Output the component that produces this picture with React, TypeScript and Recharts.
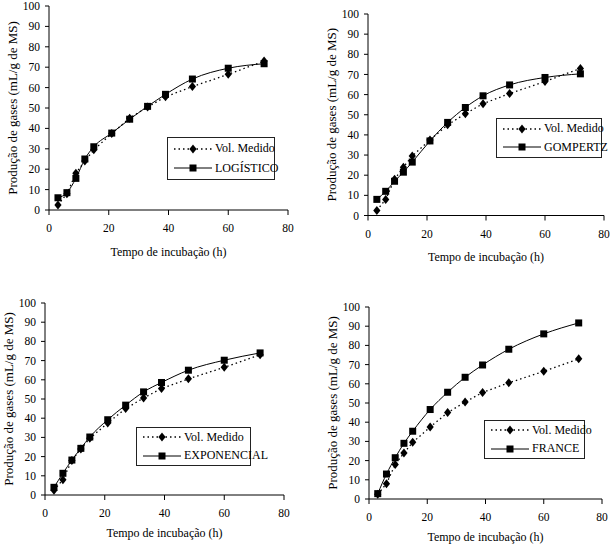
import { LineChart, Line, XAxis, YAxis, Legend } from "recharts"

// tempo de incubação (h)
const tempo = [3, 6, 9, 12, 15, 21, 27, 33, 39, 48, 60, 72]
// volume medido (mL/g de MS)
const volMedido = [2.5, 8, 18, 24, 29.5, 37.5, 45, 50.5, 55.5, 60.5, 66.5, 73]
// modelos ajustados
const logistico = [6, 8.5, 15.5, 25, 31, 37.7, 44.5, 50.8, 56.7, 64.2, 69.5, 71.7]
const gompertz = [8, 12, 17, 21.5, 26.5, 37, 46.2, 53.6, 59.4, 64.8, 68.5, 70.3]
const exponencial = [4, 11.3, 18.2, 24.3, 30.2, 39.2, 46.8, 53.7, 58.6, 65, 70.2, 74]
const france = [2.8, 13, 21.5, 29, 35.3, 46.6, 55.6, 63.4, 69.8, 78, 86, 91.7]

const modelNames = ["LOGÍSTICO", "GOMPERTZ", "EXPONENCIAL", "FRANCE"]
const modelValues = [logistico, gompertz, exponencial, france]

const xTicks = [0, 20, 40, 60, 80]
const yTicks = [0, 10, 20, 30, 40, 50, 60, 70, 80, 90, 100]

const FONT = "Liberation Serif"

// plot area, x title offset and legend box for each panel, in page pixels
const panels = [
  { plot: { l: 49, t: 5.5, r: 288, b: 209.5 }, xTitle: 46, legend: { x: 167, y: 137, w: 108, h: 43 } },
  { plot: { l: 368, t: 14, r: 604, b: 215.5 }, xTitle: 45.5, legend: { x: 496, y: 118, w: 106, h: 40 } },
  { plot: { l: 45, t: 303, r: 284, b: 495 }, xTitle: 42, legend: { x: 136, y: 427, w: 115, h: 39 } },
  { plot: { l: 369, t: 307, r: 602, b: 499 }, xTitle: 41.5, legend: { x: 484, y: 420, w: 101, h: 39 } },
]

const Y_W = 49
const X_H = 50
const TOP = 10
const RIGHT = 12

const tickStyle = { fill: "#000", fontSize: 11.5, fontFamily: FONT, style: { fontFamily: FONT } }

const Diamond = (props: any) => {
  const { cx, cy } = props
  if (cx == null || cy == null) return <g key={props.key} />
  return (
    <polygon
      key={props.key}
      points={`${cx},${cy - 4.5} ${cx + 3.6},${cy} ${cx},${cy + 4.5} ${cx - 3.6},${cy}`}
      fill="#000"
    />
  )
}

const Square = (props: any) => {
  const { cx, cy } = props
  if (cx == null || cy == null) return <g key={props.key} />
  return <rect key={props.key} x={cx - 3.5} y={cy - 3.5} width={7} height={7} fill="#000" />
}

function LegendBox({ name, w, h }: { name: string; w: number; h: number }) {
  const row = (dotted: boolean, label: string) => (
    <div style={{ display: "flex", alignItems: "center", height: 18 }}>
      <svg width={38} height={10} style={{ marginLeft: 6, marginRight: 3, overflow: "visible" }}>
        <line x1={0} y1={5} x2={38} y2={5} stroke="#000" strokeWidth={dotted ? 1.3 : 1} strokeDasharray={dotted ? "1.5 3" : undefined} />
        {dotted ? (
          <polygon points="19,0.5 22.6,5 19,9.5 15.4,5" fill="#000" />
        ) : (
          <rect x={15.5} y={1.5} width={7} height={7} fill="#000" />
        )}
      </svg>
      <span style={{ fontFamily: FONT, fontSize: 12, color: "#000", whiteSpace: "nowrap" }}>{label}</span>
    </div>
  )
  return (
    <div
      style={{
        width: w,
        height: h,
        boxSizing: "border-box",
        border: "1px solid #222",
        background: "#fff",
        display: "flex",
        flexDirection: "column",
        justifyContent: "space-evenly",
      }}
    >
      {row(true, "Vol. Medido")}
      {row(false, name)}
    </div>
  )
}

function Panel({ idx }: { idx: number }) {
  const { plot, legend, xTitle } = panels[idx]
  const name = modelNames[idx]
  const model = modelValues[idx]
  const data = tempo.map((t, i) => ({ tempo: t, medido: volMedido[i], modelo: model[i] }))

  const left = plot.l - Y_W
  const top = plot.t - TOP
  const width = plot.r - plot.l + Y_W + RIGHT
  const height = plot.b - plot.t + TOP + X_H

  return (
    <div style={{ position: "absolute", left, top }}>
      <LineChart width={width} height={height} data={data} margin={{ top: TOP, right: RIGHT, bottom: 0, left: 0 }}>
        <XAxis
          dataKey="tempo"
          type="number"
          domain={[0, 80]}
          ticks={xTicks}
          height={X_H}
          stroke="#000"
          tickSize={5}
          tickMargin={9}
          tick={tickStyle}
          label={{
            content: ({ viewBox }: any) => (
              <text
                x={viewBox.x + viewBox.width / 2}
                y={viewBox.y + xTitle}
                textAnchor="middle"
                fontSize={12}
                fill="#000"
                style={{ fontFamily: FONT }}
              >
                Tempo de incubação (h)
              </text>
            ),
          }}
        />
        <YAxis
          type="number"
          domain={[0, 100]}
          ticks={yTicks}
          width={Y_W}
          stroke="#000"
          tickSize={4}
          tickMargin={5}
          interval={0}
          tick={tickStyle}
          label={{
            content: ({ viewBox }: any) => {
              const cx = viewBox.x + 12
              const cy = viewBox.y + viewBox.height / 2
              return (
                <text
                  x={cx}
                  y={cy}
                  transform={`rotate(-90 ${cx} ${cy})`}
                  textAnchor="middle"
                  dominantBaseline="central"
                  fontSize={13}
                  fill="#000"
                  style={{ fontFamily: FONT }}
                >
                  Produção de gases (mL/g de MS)
                </text>
              )
            },
          }}
        />
        <Legend
          layout="vertical"
          align="center"
          verticalAlign="middle"
          wrapperStyle={{ left: legend.x - left, top: legend.y - top, width: legend.w, height: legend.h }}
          content={() => <LegendBox name={name} w={legend.w} h={legend.h} />}
        />
        <Line
          type="linear"
          dataKey="medido"
          name="Vol. Medido"
          stroke="#000"
          strokeWidth={1.3}
          strokeDasharray="1.5 3"
          dot={Diamond}
          activeDot={false}
          isAnimationActive={false}
        />
        <Line
          type="monotone"
          dataKey="modelo"
          name={name}
          stroke="#000"
          strokeWidth={1}
          dot={Square}
          activeDot={false}
          isAnimationActive={false}
        />
      </LineChart>
    </div>
  )
}

export default function App() {
  return (
    <div style={{ position: "absolute", left: 0, top: 0, width: 616, height: 545, background: "#fff", overflow: "hidden" }}>
      {panels.map((_, i) => (
        <Panel key={i} idx={i} />
      ))}
    </div>
  )
}
